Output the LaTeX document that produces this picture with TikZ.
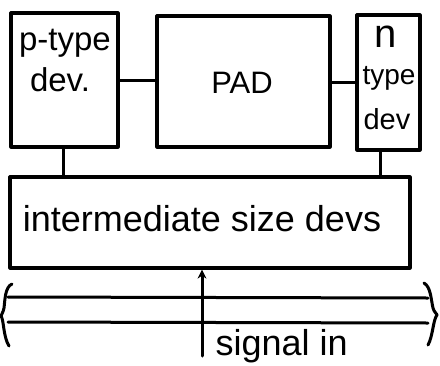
\documentclass[tikz,border=0pt]{standalone}
\usepackage{fontspec}
\setmainfont{Liberation Sans}
\usetikzlibrary{arrows.meta}
\begin{document}
\begin{tikzpicture}[x=1pt,y=-1pt,
  line width=3.2pt, line cap=round, line join=round,
  blockbox/.style={draw, rectangle, inner sep=0pt, line width=3.2pt},
  lbl/.style={inner sep=0pt, anchor=base},
  wire/.style={line width=3pt}]
\useasboundingbox (0,0) rectangle (440,365);

% device blocks
\node[blockbox, minimum width=107pt, minimum height=134pt] (pdev) at (64.5,80) {};
\node[blockbox, minimum width=173pt, minimum height=131pt] (pad)  at (243.5,81.5) {};
\node[blockbox, minimum width=63pt,  minimum height=135pt] (ndev) at (388.5,82.5) {};
\node[blockbox, minimum width=400pt, minimum height=91pt]  (inter) at (210,222.5) {};

% labels
\node[lbl, font=\fontsize{33}{33}\selectfont] (pt1) at (65,50) {p-type};
\node[lbl, font=\fontsize{33}{33}\selectfont] (pt2) at (60,91) {dev.};
\node[lbl, font=\fontsize{31}{31}\selectfont] (padl) at (242,93) {PAD};
\node[lbl, font=\fontsize{40}{40}\selectfont] (nt1) at (386,47) {n};
\node[lbl, font=\fontsize{28}{28}\selectfont] (nt2) at (389,84) {type};
\node[lbl, font=\fontsize{29}{29}\selectfont] (nt3) at (387,129) {dev};
\node[lbl, font=\fontsize{36}{36}\selectfont] (intl) at (202,231) {intermediate size devs};
\node[lbl, anchor=base west, font=\fontsize{36}{36}\selectfont] (sig) at (214,355) {signal in};

% links between blocks
\draw[wire] (pdev.east) -- (pdev.east -| pad.west);
\draw[wire] (pad.east |- ndev.west) -- (ndev.west);
\draw[wire] ([xshift=-1.5pt]pdev.south) -- ([xshift=-1.5pt]pdev.south |- inter.north);
\draw[wire] ([xshift=-8.5pt]ndev.south) -- ([xshift=-8.5pt]ndev.south |- inter.north);

% bus
\coordinate (b1l) at (8,297);  \coordinate (b1r) at (428,298);
\coordinate (b2l) at (8,322);  \coordinate (b2r) at (428,323);
\draw[wire] (b1l) -- (b1r);
\draw[wire] (b2l) -- (b2r);
% braces closing the bus ends
\draw[wire] (12,284) .. controls (5,287) and (5,300) .. (4,308)
            .. controls (3,313) and (1,315) .. (1,316)
            .. controls (4,320) and (3,336) .. (9,346);
\draw[wire] (424,283) .. controls (431,287) and (431,300) .. (433,308)
            .. controls (434,312) and (437,314) .. (437,315)
            .. controls (433,320) and (433,336) .. (428,345);

% signal input arrow
\coordinate (sigin) at (202,356);
\draw[wire, -{Stealth[length=9pt,width=9pt]}] (sigin) -- (sigin |- inter.south);
\end{tikzpicture}
\end{document}
